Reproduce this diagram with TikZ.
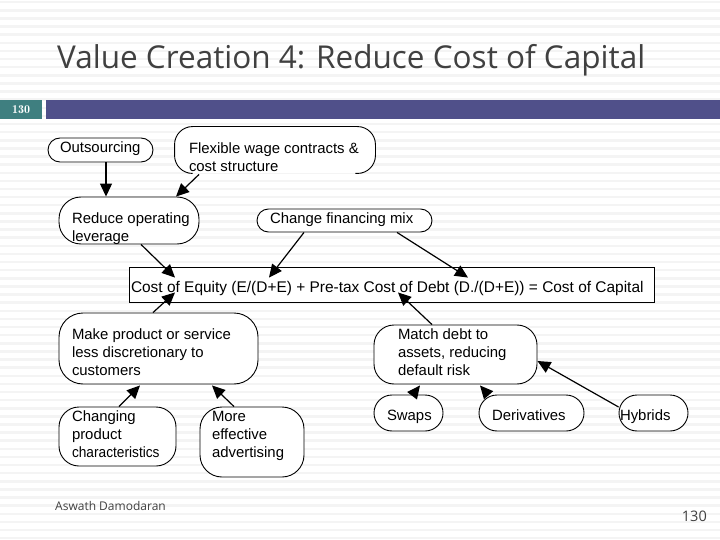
\documentclass[tikz,border=0pt]{standalone}
\usepackage{graphicx}
\usepackage{fontspec}
\setmainfont{Liberation Sans}
\newfontfamily\slidefont{Open Sans}
\usetikzlibrary{arrows.meta}
\definecolor{stripe}{HTML}{F4F4F4}
\definecolor{slideink}{HTML}{404040}
\definecolor{tealbar}{HTML}{3F7F80}
\definecolor{purplebar}{HTML}{50508A}
\newcommand\tx[3]{\rlap{\hspace{#1pt}\raisebox{#2pt}[0pt][0pt]{\parbox[c]{570pt}{\raggedright\rule{0pt}{11pt}#3\rule[-3.5pt]{0pt}{3.5pt}}}}}
\tikzset{
  x=1pt,y=-1pt,
  flow/.style={draw=black,line width=0.9pt,fill=white,rounded corners=#1,inner sep=0pt,
    font=\fontsize{14.9}{18}\selectfont},
  flow/.default=18pt,
  arr/.style={draw=black,line width=1.2pt,-{Triangle[length=13pt,width=12pt]}},
  band/.style={fill=stripe,draw=none}
}
\newcommand\fnode[7]{% name, radius, x0,y0,x1,y1, text
  \node[flow=#2pt,minimum width={#5pt-#3pt},minimum height={#6pt-#4pt},anchor=center] (#1) at ({(#3+#5)/2},{(#4+#6)/2}) {#7};}
\begin{document}
\begin{tikzpicture}
\useasboundingbox (0,0) rectangle (720,540);
\fill[white] (0,0) rectangle (720,540);
\foreach \k in {0,...,66} { \fill[band] (0,{\k*8.12+1}) rectangle (720,{\k*8.12+3.5}); }
\node[font=\slidefont\fontsize{31.5}{36}\selectfont,text=slideink,anchor=base west,inner sep=0pt] (title) at (57,69) {Value Creation 4: Reduce Cost of Capital};
\node[fill=tealbar,minimum width=42pt,minimum height=19pt,inner sep=0pt,anchor=north west,text=white,font=\fontfamily{lmr}\fontsize{12}{14}\selectfont\bfseries] (num) at (0,100) {130};
\node[fill=purplebar,minimum width=674pt,minimum height=19pt,inner sep=0pt,anchor=north west] (bar) at (46,100) {};
\fnode{out}{12}{48}{138}{153}{162}{\tx{-40.5}{-2}{Outsourcing}}
\node[flow=18pt,draw=none,minimum width=200pt,minimum height=46pt] (flex) at (275,150) {\tx{-86}{-12}{Flexible wage contracts \&\\cost structure}};
\draw[line width=0.9pt,rounded corners=18pt] ([xshift=18]flex.south west) -- (flex.south west) -- (flex.north west) -- (flex.north east) -- (flex.south east) -- ([xshift=-20]flex.south east);
\fnode{red}{22}{59}{197}{199}{244}{\tx{-57}{-11.5}{Reduce operating\\leverage}}
\fnode{mix}{11.5}{257}{209}{432}{232}{\tx{-74.5}{-2.5}{Change financing mix}}
\node[flow=0pt,rounded corners=0pt,minimum width=525pt,minimum height=35pt,font=\fontsize{15.45}{18}\selectfont] (eq) at (391.5,284.5) {\tx{-260.5}{-8}{Cost of Equity (E/(D+E) + Pre-tax Cost of Debt (D./(D+E)) = Cost of Capital}};
\fnode{make}{24}{59}{313}{258}{384}{\tx{-86.5}{-8.5}{Make product or service\\less discretionary to\\customers}}
\fnode{match}{20}{374}{325}{537}{384}{\tx{-57.5}{-2.5}{Match debt to\\assets, reducing\\default risk}}
\fnode{chg}{20}{59}{407}{176}{466}{\tx{-45.5}{-2.5}{Changing\\product\\\scalebox{0.92}[1]{characteristics}}}
\fnode{more}{22}{200}{407}{304}{477}{\tx{-40}{3}{More\\effective\\advertising}}
\fnode{swaps}{18}{374}{395}{443}{431}{\tx{-21.5}{-7.5}{Swaps}}
\fnode{deriv}{18}{479}{395}{584}{431}{\tx{-39.5}{-7.5}{Derivatives}}
\fnode{hyb}{18}{619}{395}{688}{431}{\tx{-33.5}{-7.5}{Hybrids}}
\draw[arr] ([xshift=5.5]out.south) -- ([xshift=-23]red.north);
\draw[arr] ([xshift=-76,yshift=-1]flex.south) -- ([xshift=47]red.north);
\draw[arr] ([xshift=12]red.south) -- ([xshift=-216.5,yshift=-11]eq.north);
\draw[arr] ([xshift=-40.5]mix.south) -- ([xshift=-122.5,yshift=-11]eq.north);
\draw[arr] ([xshift=52.5]mix.south) -- ([xshift=76.5,yshift=-11]eq.north);
\draw[arr] ([xshift=-5.5]make.north) -- ([xshift=-216.5,yshift=10]eq.south);
\draw[arr] ([xshift=-23.5]match.north) -- ([xshift=6.5,yshift=10]eq.south);
\draw[arr] ([xshift=1.5]chg.north) -- ([xshift=-18.5,yshift=-1]make.south);
\draw[arr] ([xshift=-18]more.north) -- ([xshift=53.5,yshift=-1]make.south);
\draw[arr] ([xshift=4.5]swaps.north) -- ([xshift=-35.5,yshift=-1]match.south);
\draw[arr] ([xshift=-43.5]deriv.north) -- ([xshift=24.5,yshift=-1]match.south);
\draw[arr] ([yshift=6]hyb.west) -- ([yshift=-6.5]match.east);
\node[font=\slidefont\fontsize{12}{14}\selectfont,text=slideink,anchor=west,inner sep=0pt] (author) at (55,506) {Aswath Damodaran};
\node[font=\slidefont\fontsize{14.5}{16}\selectfont,text=slideink,anchor=east,inner sep=0pt] (page) at (707,516) {130};
\end{tikzpicture}
\end{document}
